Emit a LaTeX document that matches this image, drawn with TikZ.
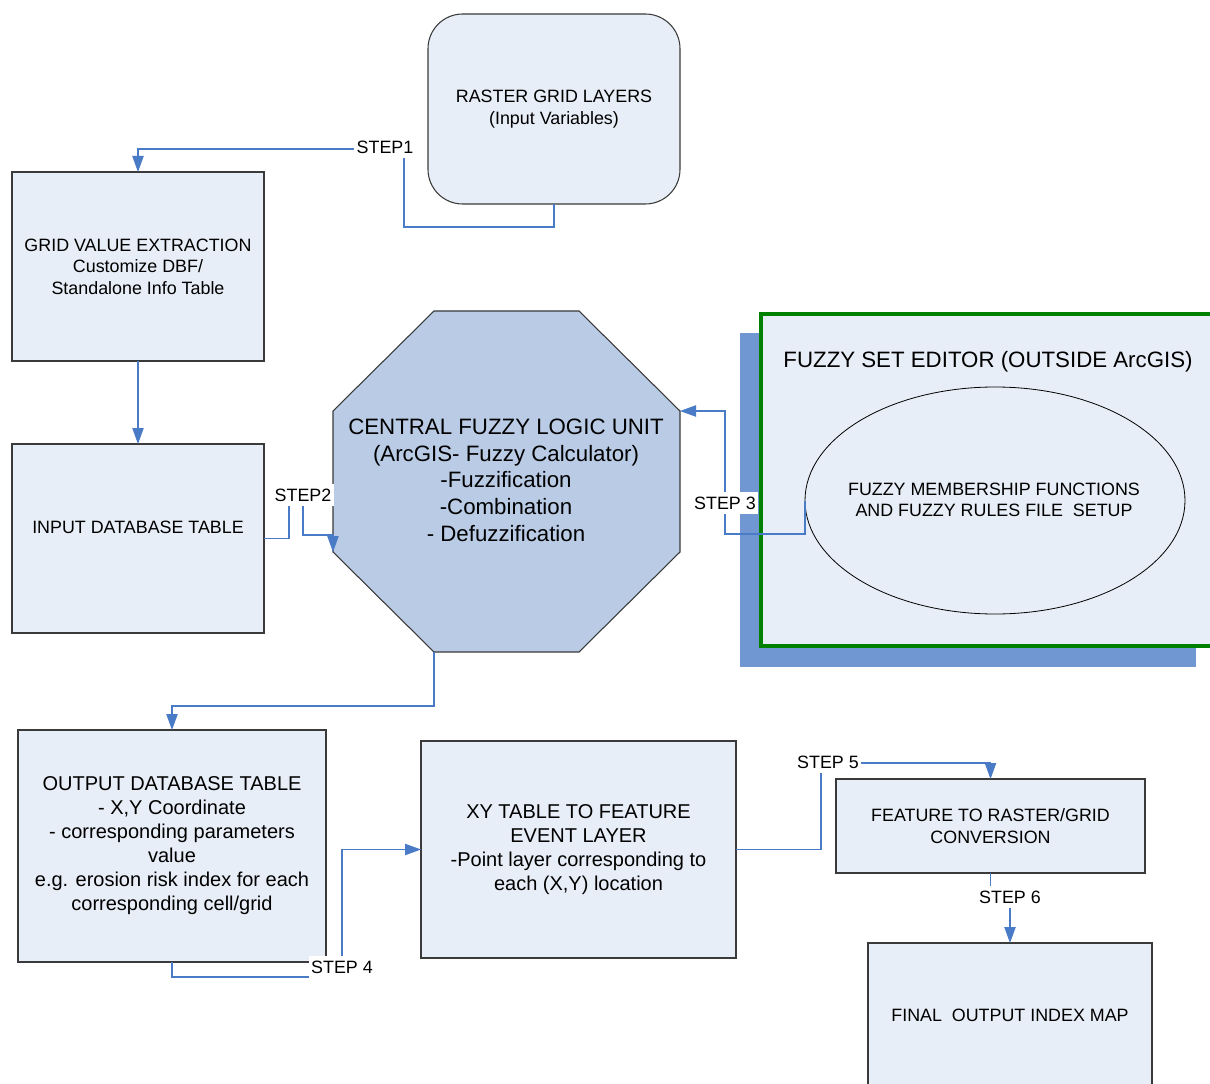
\documentclass[tikz,border=0pt]{standalone}
\usepackage{fontspec}
\setmainfont{Liberation Sans}
\usetikzlibrary{arrows.meta,shapes.geometric}
\definecolor{boxfill}{HTML}{E8EEF7}
\definecolor{boxline}{HTML}{3A3A3A}
\definecolor{octfill}{HTML}{B9CBE5}
\definecolor{connc}{HTML}{4A7BC6}
\definecolor{shadowc}{HTML}{7097D1}
\definecolor{edgreen}{HTML}{008000}
\newcommand\smallf{\fontsize{13.4}{16.2}\selectfont}
\newcommand\medf{\fontsize{15}{18}\selectfont}
\newcommand\largef{\fontsize{16.7}{20}\selectfont}
\begin{document}
\begin{tikzpicture}[x=0.75pt,y=-0.75pt,
  box/.style={draw=boxline, fill=boxfill, line width=0.8pt, outer sep=0pt, inner sep=0pt, align=center, font=\smallf},
  txt/.style={align=center, inner sep=0pt, font=\smallf},
  conn/.style={draw=connc, line width=0.8pt},
  arr/.style={-{Triangle[length=12pt,width=8.5pt]}},
  steplabel/.style={fill=white, inner xsep=2pt, inner ysep=3.5pt, font=\smallf}]
\useasboundingbox (0,0) rectangle (1210,1084);
\fill[white] (0,0) rectangle (1210,1084);

% fuzzy set editor with shadow
\fill[shadowc] (740,333) rectangle (1196,667);
\node[box, draw=edgreen, line width=2.4pt, minimum width=338.25pt, minimum height=249pt] (editor) at (986.5,480) {};
\node[txt, font=\largef] (edtitle) at (988,362) {FUZZY SET EDITOR (OUTSIDE ArcGIS)};
\node[draw=black, line width=0.6pt, ellipse, fill=boxfill, minimum width=285pt, minimum height=170.25pt, inner sep=0pt, outer sep=0pt] (memb) at (995,500.5) {};
\node[txt, font=\fontsize{13.4}{15.75}\selectfont] (membtxt) at (994,500)
  {FUZZY MEMBERSHIP FUNCTIONS\\AND FUZZY RULES FILE~ SETUP};

% boxes
\node[box, rounded corners=26pt, minimum width=189pt, minimum height=142.5pt, font=\fontsize{13.4}{16.5}\selectfont] (raster) at (554,109)
  {RASTER GRID LAYERS\\(Input Variables)};
\node[box, minimum width=189pt, minimum height=141.75pt] (grid) at (138,266.5)
  {GRID VALUE EXTRACTION\\Customize DBF/\\Standalone Info Table};
\node[box, minimum width=189pt, minimum height=141.75pt] (input) at (138,538.5) {};
\node[txt] (inputtxt) at (138,527) {INPUT DATABASE TABLE};
\node[box, minimum width=231pt, minimum height=174pt, font=\medf] (outdb) at (172,846)
  {OUTPUT DATABASE TABLE\\- X,Y Coordinate\\- corresponding parameters\\value\\e.g. erosion risk index for each\\corresponding cell/grid};
\node[box, minimum width=236.25pt, minimum height=162.75pt, font=\medf] (xy) at (578.5,849.5)
  {XY TABLE TO FEATURE\\EVENT LAYER\\-Point layer corresponding to\\each (X,Y) location};
\node[box, minimum width=231.75pt, minimum height=70.5pt, font=\fontsize{13.4}{16.5}\selectfont] (feat) at (990.5,826)
  {FEATURE TO RASTER/GRID\\CONVERSION};
\node[box, minimum width=213pt, minimum height=108.75pt] (final) at (1010,1015.5)
  {FINAL~ OUTPUT INDEX MAP};

% octagon
\coordinate (o1) at (434,311);
\coordinate (o2) at (680,411);
\coordinate (o3) at (680,552);
\coordinate (o4) at (579,652);
\coordinate (o6) at (434,652);
\coordinate (o7) at (333,552);
\coordinate (o8) at (333,411);
\filldraw[fill=octfill, draw=boxline, line width=0.8pt]
  (o1) -- (579,311) -- (o2) -- (o3) -- (o4) -- (o6) -- (o7) -- (o8) -- cycle;
\node[txt, font=\largef] (cfl) at (506,480)
  {CENTRAL FUZZY LOGIC UNIT\\(ArcGIS- Fuzzy Calculator)\\-Fuzzification\\-Combination\\- Defuzzification};

% connector bend points
\coordinate (k1) at (404,149);
\coordinate (k2a) at (289,495);
\coordinate (k2b) at (303,495);
\coordinate (k2c) at (333,535);
\coordinate (k3) at (725,534);
\coordinate (k4) at (342,977);
\coordinate (k5) at (821,763);
\coordinate (k6) at (1010,897);

% connectors
\draw[conn,arr] (raster.south) -- ++(0,23) -| (k1) -| (grid.north);
\draw[conn,arr] (grid.south) -- (input.north);
\draw[conn,arr] (input.east) -| (k2a) -- (k2b) |- (k2c) -- (o7);
\draw[conn,arr] (memb.west) |- (k3) |- (o2);
\draw[conn,arr] (o6) -- ++(0,54) -| (outdb.north);
\draw[conn,arr] (outdb.south) |- (k4) |- (xy.west);
\draw[conn,arr] (xy.east) -| (k5) -| (feat.north);
\draw[conn,arr] (feat.south) |- (k6) -- (final.north);

% step labels
\node[steplabel] (s1) at (385,147) {STEP1};
\node[steplabel] (s2) at (303,495) {STEP2};
\node[steplabel] (s3) at (725,503) {STEP 3};
\node[steplabel] (s4) at (342,967) {STEP 4};
\node[steplabel] (s5) at (828,762) {STEP 5};
\node[steplabel] (s6) at (1010,897) {STEP 6};
\end{tikzpicture}
\end{document}
